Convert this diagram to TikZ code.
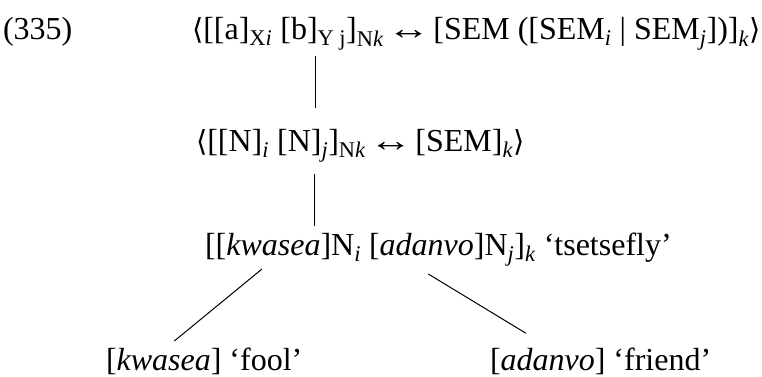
\documentclass[tikz,border=0pt]{standalone}
\usepackage{graphicx}
\usepackage{fontspec}
\setmainfont{Liberation Serif}
\newfontfamily\symfont{DejaVu Sans}
\newcommand{\lo}[1]{\textsubscript{#1}}
\newcommand{\lang}{{\symfont\fontsize{29}{36}\selectfont ⟨}}
\newcommand{\rang}{{\symfont\fontsize{29}{36}\selectfont ⟩}}
\newcommand{\lrar}{\hspace{0.1em}\scalebox{1.35}[1]{↔}\hspace{0.1em}}
\begin{document}
\begin{tikzpicture}[x=1pt,y=-1pt,
  line/.style={line width=1pt},
  txt/.style={anchor=base west,inner sep=0pt,outer sep=0pt,
    font=\fontsize{32}{40}\selectfont}]
\useasboundingbox (0,0) rectangle (762,376);
% example number
\node[txt] (num) at (3,39.5) {(335)};
% schema, subschema, instance
\node[txt] (l1) at (192,39.5) {\lang[[a]\lo{X\textit{i}} [b]\lo{Y j}]\lo{N\textit{k}}\lrar[SEM ([SEM\lo{\textit{i}} | SEM\lo{\textit{j}}])]\lo{\textit{k}}\rang};
\node[txt] (l2) at (196,151) {\lang[[N]\lo{\textit{i}} [N]\lo{\textit{j}}]\lo{N\textit{k}}\lrar[SEM]\lo{\textit{k}}\rang};
\node[txt] (l3) at (205,255) {[[\textit{kwasea}]N\lo{\textit{i}} [\textit{adanvo}]N\lo{\textit{j}}]\lo{\textit{k}} ‘tsetsefly’};
\node[txt] (l4a) at (106,370) {[\textit{kwasea}] ‘fool’};
\node[txt] (l4b) at (490,370) {[\textit{adanvo}] ‘friend’};
% connector end points
\coordinate (v1a) at (315.7,55.7);
\coordinate (v1b) at (315.7,107.7);
\coordinate (v2a) at (314,174);
\coordinate (v2b) at (314,225.7);
\coordinate (dla) at (262,269);
\coordinate (dlb) at (174.3,341);
\coordinate (dra) at (428.3,274);
\coordinate (drb) at (526,333.3);
\draw[line] (v1a) -- (v1b);
\draw[line] (v2a) -- (v2b);
\draw[line] (dla) -- (dlb);
\draw[line] (dra) -- (drb);
\end{tikzpicture}
\end{document}
